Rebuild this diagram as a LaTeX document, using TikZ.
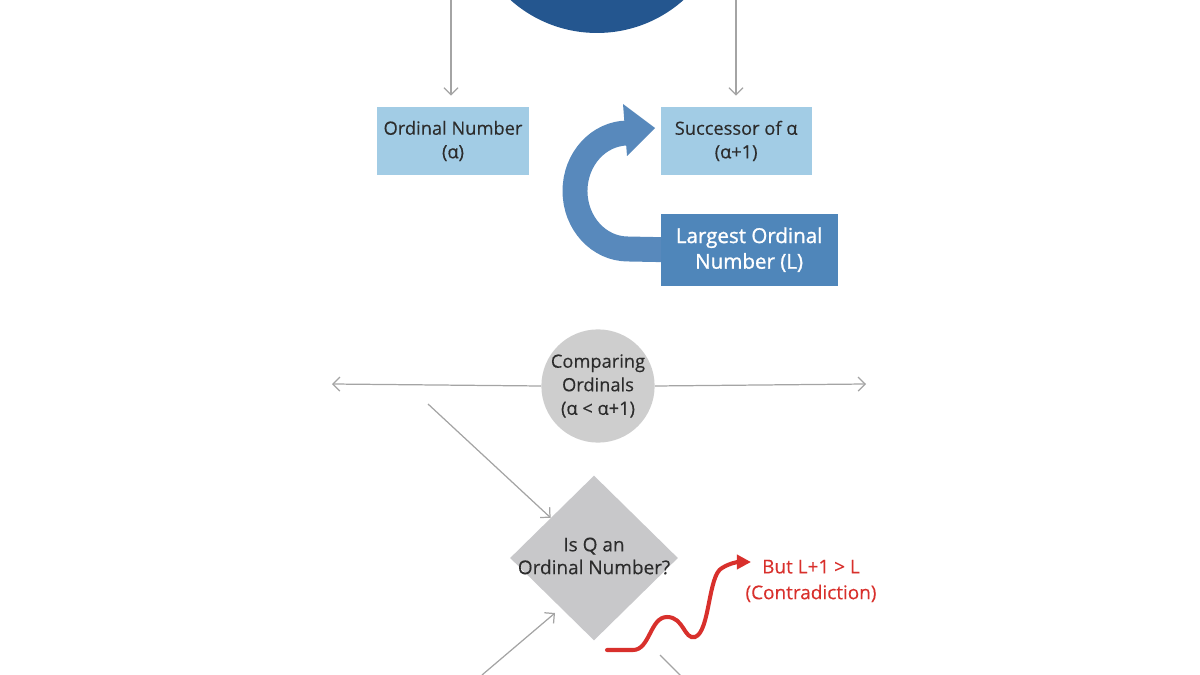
\documentclass[tikz,border=0pt]{standalone}
\usepackage{fontspec}
\setmainfont{Open Sans}[FakeBold=0.3]
\newfontfamily\heavyfont{Open Sans}[FakeBold=1.2]
\usetikzlibrary{arrows.meta}
\usetikzlibrary{shapes.geometric}
\usetikzlibrary{positioning}
\usetikzlibrary{backgrounds}
\definecolor{navyblue}{HTML}{24568F}
\definecolor{paleblue}{HTML}{A2CCE5}
\definecolor{midblue}{HTML}{4F86BA}
\definecolor{bendblue}{HTML}{5889BC}
\definecolor{lightgrey}{HTML}{CECECE}
\definecolor{diamgrey}{HTML}{C8C8CA}
\definecolor{linegrey}{HTML}{A4A4A4}
\definecolor{textgrey}{HTML}{2C2C2C}
\definecolor{alertred}{HTML}{D8302C}

\begin{document}
\begin{tikzpicture}[x=0.02cm,y=-0.02cm,
	txt/.style={text=textgrey,align=center,font=\fontsize{10.4}{13.4}\selectfont},
	box/.style={txt,rectangle,fill=paleblue,minimum height=1.36cm,inner sep=0pt},
	bigbox/.style={rectangle,fill=midblue,text=white,align=center,minimum width=3.54cm,minimum height=1.44cm,inner sep=0pt,font=\heavyfont\fontsize{11.7}{14.6}\selectfont},
	link/.style={draw=linegrey,line width=0.7pt,-{Straight Barb[length=4pt,width=8pt]}},
	bentband/.style={draw=bendblue,line width=14.2pt},
	wave/.style={draw=alertred,line width=2.3pt,line cap=round,-{Triangle[length=8pt,width=8pt]}}]

	    \useasboundingbox (0,0) rectangle (1200,675);

	    % top disc, cut by the upper edge
	    \node[circle,fill=navyblue,minimum size=5.2cm,inner sep=0pt] (root) at (597,-97) {};

	    \node[box,minimum width=3.04cm] (ord) at (453,141) {Ordinal Number\\(α)};
	    \node[box,minimum width=3.02cm,right=2.62cm of ord] (succ) {Successor of α\\(α+1)};
	    \node[bigbox,anchor=north west] (lrg) at ([yshift=-0.76cm]succ.south west) {Largest Ordinal\\Number (L)};

	    % bent arrow sits behind the dark box
	    \begin{scope}[on background layer]
	    \draw[bentband] ([xshift=2pt]lrg.west) -- (628,249) arc[start angle=90,end angle=270,x radius=53,y radius=58] -- (630,133);
	    \fill[bendblue] (623,104) -- (655,128) -- (627,156) -- cycle;
	    \end{scope}

	    \coordinate (ordin) at (451,0);
	    \coordinate (succin) at (736,0);
	    \draw[link,shorten >=0.22cm] (ordin) -- (ordin |- ord.north);
	    \draw[link,shorten >=0.22cm] (succin) -- (succin |- succ.north);

	    \node[txt,circle,fill=lightgrey,minimum size=2.24cm,inner sep=0pt] (cmp) at (598,386) {Comparing\\Ordinals\\(α < α+1)};
	    \coordinate (cmpl) at (332,384);
	    \coordinate (cmpr) at (866,384);
	    \draw[link] (cmp.west) -- (cmpl);
	    \draw[link] (cmp.east) -- (cmpr);

	    \node[diamond,fill=diamgrey,minimum width=3.36cm,minimum height=3.3cm,inner sep=0pt] (isq) at (594,558) {};
	    \node[txt,font=\fontsize{10.8}{13}\selectfont] (isqtext) at (594,556) {Is Q an\\Ordinal Number?};

	    \coordinate (dgin) at (428,404);
	    \draw[link] (dgin) -- (isq);
	    \coordinate (upin) at (482,675);
	    \coordinate (uptip) at (555,613);
	    \draw[link] (upin) -- (uptip);
	    \coordinate (outa) at (660,655);
	    \coordinate (outb) at (682,677);
	    \draw[draw=linegrey,line width=0.7pt] (outa) -- (outb);

	    % contradiction
	    \coordinate (wavein) at (607,650);
	    \coordinate (wavetip) at (751,562);
	    \node[text=alertred,align=center,font=\fontsize{10.8}{14.7}\selectfont] (contra) at (811,581) {But L+1 > L\\(Contradiction)};
	    \draw[wave] (wavein) -- (633,650) .. controls (650,650) and (650,617) .. (667,617) .. controls (684,617) and (684,640) .. (695,637) .. controls (710,632) and (708,575) .. (722,568) .. controls (730,563) and (738,562) .. (wavetip);

	    \end{tikzpicture}
\end{document}
